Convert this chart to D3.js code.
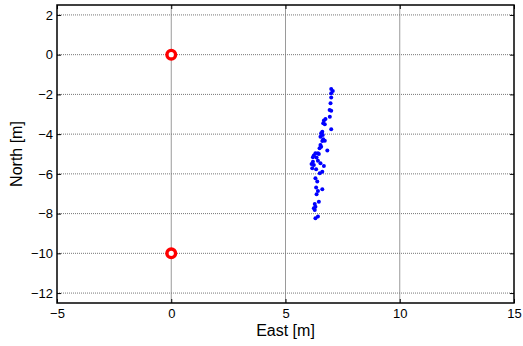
<!DOCTYPE html>
<html>
<head>
<meta charset="utf-8">
<script src="https://cdn.jsdelivr.net/npm/d3@7"></script>
<style>
  html, body { margin: 0; padding: 0; background: #fff; }
  svg { display: block; font-family: "Liberation Sans", Arial, sans-serif; }
</style>
</head>
<body>
<svg id="chart" width="523" height="346"></svg>
<script>
// Reference beacons (East, North) in metres
const beaconEast = [0, 0];
const beaconNorth = [0, -10];

// Position estimates (East, North) in metres
const fixEast = [
  7.00, 7.07, 7.00, 7.00, 6.97, 6.93, 7.00, 6.94, 6.75, 6.68,
  6.65, 6.72, 7.00, 6.61, 6.56, 6.63, 6.53, 6.65, 6.61, 6.72,
  6.53, 6.49, 6.83, 6.31, 6.24, 6.42, 6.36, 6.20, 6.42, 6.53,
  6.14, 6.24, 6.68, 6.17, 6.34, 6.61, 6.50, 6.31, 6.39, 6.34,
  6.61, 6.42, 6.36, 6.46, 6.28, 6.31, 6.24, 6.28, 6.42, 6.31,
  6.46, 6.20, 6.56
];
const fixNorth = [
  -1.73, -1.83, -1.94, -2.15, -2.45, -2.78, -2.82, -3.12, -3.24, -3.32,
  -3.45, -3.50, -3.76, -3.88, -3.96, -4.04, -4.13, -4.26, -4.34, -4.33,
  -4.55, -4.71, -4.83, -4.96, -5.08, -4.96, -5.17, -5.39, -5.34, -5.47,
  -5.50, -5.55, -5.60, -5.72, -5.77, -5.89, -5.97, -6.22, -6.39, -6.69,
  -6.78, -6.86, -7.03, -7.40, -7.52, -7.65, -7.73, -7.82, -8.15, -8.23,
  -5.00, -5.16, -4.63
];

const xTicks = [-5, 0, 5, 10, 15];
const yTicks = [2, 0, -2, -4, -6, -8, -10, -12];
const xDomain = [-5, 15];
const yDomain = [-12.5, 2.5];

const margin = { left: 57, top: 5, right: 9, bottom: 43 };
const W = 523, H = 346;
const pw = W - margin.left - margin.right;
const ph = H - margin.top - margin.bottom;

const svg = d3.select("#chart");
const g = svg.append("g").attr("transform", `translate(${margin.left},${margin.top})`);

const x = d3.scaleLinear().domain(xDomain).range([0, pw]);
const y = d3.scaleLinear().domain(yDomain).range([ph, 0]);

// grid
g.append("g").selectAll("line").data(xTicks.slice(1, -1)).join("line")
  .attr("x1", d => x(d)).attr("x2", d => x(d))
  .attr("y1", 0).attr("y2", ph)
  .attr("stroke", "#9a9a9a").attr("stroke-width", 1);
g.append("g").selectAll("line").data(yTicks).join("line")
  .attr("x1", 0).attr("x2", pw)
  .attr("y1", d => y(d)).attr("y2", d => y(d))
  .attr("stroke", "#777").attr("stroke-width", 1)
  .attr("stroke-dasharray", "1,1");

// axes with inward ticks on all sides
const tickLen = 4;
const bottomAxis = d3.axisBottom(x).tickValues(xTicks).tickSize(-tickLen).tickPadding(6).tickFormat(d3.format("d"));
const leftAxis = d3.axisLeft(y).tickValues(yTicks).tickSize(-tickLen).tickPadding(4).tickFormat(d3.format("d"));
const topAxis = d3.axisTop(x).tickValues(xTicks).tickSize(-tickLen).tickFormat("");
const rightAxis = d3.axisRight(y).tickValues(yTicks).tickSize(-tickLen).tickFormat("");

function style(sel) {
  sel.select(".domain").remove();
  sel.selectAll(".tick line").attr("stroke", "#000").attr("stroke-width", 1);
  sel.selectAll(".tick text").attr("fill", "#000").attr("font-size", 13)
    .attr("font-family", "'Liberation Sans', Arial, sans-serif");
}
g.append("g").attr("transform", `translate(0,${ph})`).call(bottomAxis).call(style);
g.append("g").call(leftAxis).call(style);
g.append("g").call(topAxis).call(style);
g.append("g").attr("transform", `translate(${pw},0)`).call(rightAxis).call(style);

// frame
g.append("rect").attr("x", 0).attr("y", 0).attr("width", pw).attr("height", ph)
  .attr("fill", "none").attr("stroke", "#000").attr("stroke-width", 1.5);

// position estimates
g.append("g").selectAll("circle").data(d3.range(fixEast.length)).join("circle")
  .attr("cx", i => x(fixEast[i])).attr("cy", i => y(fixNorth[i]))
  .attr("r", 2).attr("fill", "#0000ff");

// beacons
g.append("g").selectAll("circle").data(d3.range(beaconEast.length)).join("circle")
  .attr("cx", i => x(beaconEast[i])).attr("cy", i => y(beaconNorth[i]))
  .attr("r", 4.3).attr("fill", "#fff").attr("stroke", "#ff0000").attr("stroke-width", 3.4);

// axis labels
svg.append("text").attr("x", margin.left + pw / 2).attr("y", 336)
  .attr("text-anchor", "middle").attr("font-size", 16).text("East [m]");
svg.append("text").attr("transform", `translate(22,${margin.top + ph / 2}) rotate(-90)`)
  .attr("text-anchor", "middle").attr("font-size", 16).text("North [m]");
</script>
</body>
</html>
